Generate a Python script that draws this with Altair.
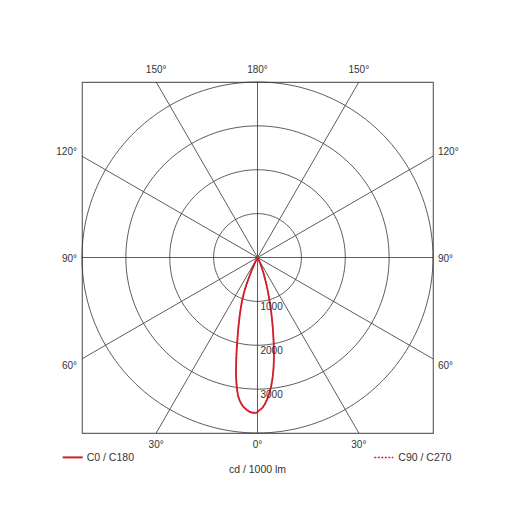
import altair as alt
import pandas as pd

# ---- data ----
gamma = [0, 2, 4, 6, 8, 10, 12, 14, 16, 18, 20, 22, 24, 26, 28, 30]
c0 = [3520, 3420, 3230, 2960, 2600, 2150, 1700, 1300, 950, 680, 460, 290, 160, 70, 20, 0]
c180 = [3530, 3540, 3485, 3380, 3180, 2800, 2320, 1880, 1540, 1250, 1000, 700, 330, 120, 30, 0]
c90 = [3510, 3410, 3220, 2950, 2590, 2140, 1690, 1290, 945, 675, 455, 287, 158, 69, 20, 0]
c270 = [3520, 3530, 3475, 3370, 3170, 2790, 2310, 1870, 1530, 1240, 990, 695, 327, 119, 30, 0]

series_names = ["C0 / C180", "C90 / C270"]
ring_values = [1000, 2000, 3000, 4000]
ring_labels = [1000, 2000, 3000]
spoke_angles = [0, 30, 60, 90, 120, 150, 180, 210, 240, 270, 300, 330]
edge_labels_tb = [0, 30, 150, 180]     # labels on top / bottom edges
edge_labels_side = [60, 90, 120]       # labels on left / right edges
unit_label = "cd / 1000 lm"
RMAX = 4000

RED = "#d1202c"
GRID = "#333333"
TXT = "#333333"
FONT = "Liberation Sans"

# ---- tables ----
curve_rows = []
for name, left, right in [(series_names[0], c180, c0), (series_names[1], c270, c90)]:
    k = 0
    for i in reversed(range(len(gamma))):
        curve_rows.append({"series": name, "g": gamma[i], "I": left[i], "side": -1, "ord": k})
        k += 1
    for i in range(len(gamma)):
        curve_rows.append({"series": name, "g": gamma[i], "I": right[i], "side": 1, "ord": k})
        k += 1
curve_df = pd.DataFrame(curve_rows)

ring_rows = []
for r in ring_values:
    for a in range(0, 362, 2):
        ring_rows.append({"r": r, "a": a})
ring_df = pd.DataFrame(ring_rows)

spoke_df = pd.DataFrame({"a": spoke_angles})

tb_rows = []
for g in edge_labels_tb:
    sides = [1] if g in (0, 180) else [-1, 1]
    for s in sides:
        tb_rows.append({"g": g, "side": s, "lab": f"{g}°"})
tb_df = pd.DataFrame(tb_rows)

side_rows = []
for g in edge_labels_side:
    for s in [-1, 1]:
        side_rows.append({"g": g, "side": s, "lab": f"{g}°"})
side_df = pd.DataFrame(side_rows)

ringlab_df = pd.DataFrame({"v": ring_labels})

xs = alt.Scale(domain=[-RMAX, RMAX], nice=False, zero=False)
ys = alt.Scale(domain=[-RMAX, RMAX], nice=False, zero=False)

def X(f):
    return alt.X(f, type="quantitative", scale=xs, axis=None)

def Y(f):
    return alt.Y(f, type="quantitative", scale=ys, axis=None)

rings = alt.Chart(ring_df).transform_calculate(
    x="datum.r*sin(datum.a*PI/180)", y="-datum.r*cos(datum.a*PI/180)"
).mark_line(color=GRID, strokeWidth=0.8).encode(
    x=X("x"), y=Y("y"), detail="r:N", order="a:Q"
)

spokes = alt.Chart(spoke_df).transform_calculate(
    L=f"{RMAX}/max(abs(sin(datum.a*PI/180)), abs(cos(datum.a*PI/180)))",
    x0="0", y0="0",
).transform_calculate(
    x1="datum.L*sin(datum.a*PI/180)", y1="-datum.L*cos(datum.a*PI/180)"
).mark_rule(color=GRID, strokeWidth=0.8).encode(
    x=X("x0"), y=Y("y0"), x2="x1:Q", y2="y1:Q"
)

curve_base = alt.Chart(curve_df).transform_calculate(
    x="datum.side*datum.I*sin(datum.g*PI/180)",
    y="-datum.I*cos(datum.g*PI/180)",
)
curve_solid = curve_base.transform_filter(
    alt.datum.series == series_names[0]
).mark_line(color=RED, strokeWidth=1.8, interpolate="catmull-rom").encode(
    x=X("x"), y=Y("y"), order="ord:Q"
)
curve_dot = curve_base.transform_filter(
    alt.datum.series == series_names[1]
).mark_line(color=RED, strokeWidth=1.4, strokeDash=[1.5, 1.5], interpolate="catmull-rom").encode(
    x=X("x"), y=Y("y"), order="ord:Q"
)

tb_labels = alt.Chart(tb_df).transform_calculate(
    L=f"{RMAX}/max(abs(sin(datum.g*PI/180)), abs(cos(datum.g*PI/180)))",
).transform_calculate(
    x="datum.side*datum.L*sin(datum.g*PI/180)",
    y=f"(cos(datum.g*PI/180) > 0 ? -1 : 1)*{RMAX}*1.07",
).mark_text(font=FONT, fontSize=10, color=TXT, baseline="middle", align="center").encode(
    x=X("x"), y=Y("y"), text="lab:N"
)

side_base = alt.Chart(side_df).transform_calculate(
    L=f"{RMAX}/max(abs(sin(datum.g*PI/180)), abs(cos(datum.g*PI/180)))",
).transform_calculate(
    x=f"datum.side*{RMAX}",
    y="-datum.L*cos(datum.g*PI/180)*1.055",
)
side_left = side_base.transform_filter(alt.datum.side < 0).mark_text(
    font=FONT, fontSize=10, color=TXT, baseline="middle", align="right", dx=-5, dy=1.5
).encode(x=X("x"), y=Y("y"), text="lab:N")
side_right = side_base.transform_filter(alt.datum.side > 0).mark_text(
    font=FONT, fontSize=10, color=TXT, baseline="middle", align="left", dx=5, dy=1.5
).encode(x=X("x"), y=Y("y"), text="lab:N")

ring_text = alt.Chart(ringlab_df).transform_calculate(
    x="0", y="-datum.v"
).mark_text(font=FONT, fontSize=10, color=TXT, baseline="middle", align="left", dx=3, dy=5.5).encode(
    x=X("x"), y=Y("y"), text="v:Q"
)

# ---- legend and unit caption ----
leg_df = pd.DataFrame({"name": series_names, "k": [0, 1]})
leg_solid = alt.Chart(leg_df).transform_filter(alt.datum.k == 0).mark_rule(
    color=RED, strokeWidth=2
).encode(x=alt.value(-19.3), x2=alt.value(0.7), y=alt.value(375.4))
leg_dot = alt.Chart(leg_df).transform_filter(alt.datum.k == 1).mark_rule(
    color=RED, strokeWidth=1.5, strokeDash=[2, 1.5]
).encode(x=alt.value(292.3), x2=alt.value(311.3), y=alt.value(375.4))
leg_t0 = alt.Chart(leg_df).transform_filter(alt.datum.k == 0).mark_text(
    font=FONT, fontSize=10.5, color=TXT, align="left", baseline="middle"
).encode(x=alt.value(4.7), y=alt.value(376), text="name:N")
leg_t1 = alt.Chart(leg_df).transform_filter(alt.datum.k == 1).mark_text(
    font=FONT, fontSize=10.5, color=TXT, align="left", baseline="middle"
).encode(x=alt.value(316.3), y=alt.value(376), text="name:N")
unit_df = pd.DataFrame({"t": [unit_label]})
unit_t = alt.Chart(unit_df).mark_text(
    font=FONT, fontSize=10.5, color=TXT, align="center", baseline="middle"
).encode(x=alt.value(175.5), y=alt.value(388), text="t:N")

chart = alt.layer(
    rings, spokes, curve_solid, curve_dot, tb_labels, side_left, side_right, ring_text,
    leg_solid, leg_dot, leg_t0, leg_t1, unit_t
).properties(
    width=351, height=351,
    autosize=alt.AutoSizeParams(type="none"),
    padding={"left": 74, "top": 74, "right": 70, "bottom": 70},
).configure_view(stroke="#666666", strokeWidth=1.2)

chart.save("out.html", embed_options={"renderer": "svg", "actions": False})
